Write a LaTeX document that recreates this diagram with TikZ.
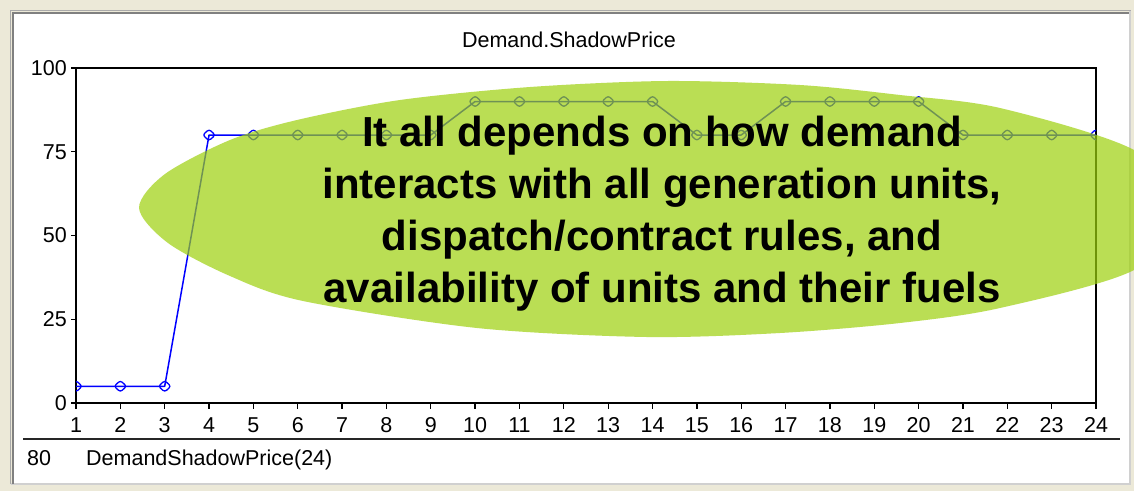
\documentclass[tikz,border=0pt]{standalone}
\usepackage{fontspec}
\setmainfont{Liberation Sans}
\usetikzlibrary{shapes.geometric}
\definecolor{beige}{RGB}{236,233,216}
\definecolor{blobgreen}{RGB}{158,208,12}
\definecolor{darkedge}{RGB}{128,128,128}
\definecolor{midedge}{RGB}{170,170,170}
\definecolor{lightedge}{RGB}{208,208,208}
\definecolor{seriesblue}{RGB}{0,0,255}
\tikzset{
  charttext/.style={inner sep=0pt, font=\fontsize{21.5}{24}\selectfont, text=black},
  axisline/.style={draw=black, line width=1.6pt},
  tickline/.style={draw=black, line width=1.3pt},
  seriesline/.style={draw=seriesblue, line width=1.5pt, line join=round},
  markerbox/.style={draw=seriesblue, line width=1.3pt, diamond, rounded corners=2.5pt,
    minimum width=13pt, minimum height=12pt, inner sep=0pt, fill=none},
  blob/.style={fill=blobgreen, fill opacity=0.7},
  bigtext/.style={align=center, inner sep=0pt, text=black,
    font=\fontsize{42}{52}\selectfont\bfseries}
}
\begin{document}
\begin{tikzpicture}[x=1pt,y=-1pt]
\useasboundingbox (0,0) rectangle (1134,491);
% window background and panel
\fill[beige] (0,0) rectangle (1134,491);
\fill[white] (12,12) rectangle (1130,483);
\draw[lightedge, line width=2pt] (1130,11) -- (1130,484) -- (11,484);
\draw[midedge, line width=1.5pt] (10.5,484) -- (10.5,10.5) -- (1131,10.5);
\draw[darkedge, line width=2pt] (13,484) -- (13,13) -- (1129,13);
% title
\node[charttext, anchor=base] (title) at (569,47) {Demand.ShadowPrice};
% plot frame
\draw[axisline] (76,68) rectangle (1096,403);
% y ticks and labels
\foreach \v in {0,25,50,75,100}{
  \coordinate (yt\v) at (76,{403-\v*3.35});
  \draw[tickline] (yt\v) -- ++(-5,0);
  \node[charttext, anchor=east] (yl\v) at ([xshift=-9pt]yt\v) {\v};
}
% x ticks and labels
\foreach \i in {1,...,24}{
  \coordinate (xt\i) at ({76+(\i-1)*44.3478},403);
  \draw[tickline] (xt\i) -- ++(0,6);
  \node[charttext, anchor=base] (xl\i) at ([yshift=-29pt]xt\i) {\i};
}
% data series
\foreach \v [count=\i] in {5,5,5,80,80,80,80,80,80,90,90,90,90,90,80,80,90,90,90,90,80,80,80,80}{
  \coordinate (p\i) at ({76+(\i-1)*44.3478},{403-\v*3.35});
}
\begin{scope}
  \clip (76,68) rectangle (1096,403);
  \draw[seriesline] (p1) \foreach \i in {2,...,24}{ -- (p\i)};
  \foreach \i in {1,...,24}{ \node[markerbox] (m\i) at (p\i) {}; }
\end{scope}
% legend area
\draw[black!85, line width=1.6pt] (23,439) -- (1120,439);
\node[charttext, anchor=base west] (legval) at (27,465) {80};
\node[charttext, anchor=base west] (legname) at (86,465) {DemandShadowPrice(24)};
% green callout blob
\begin{scope}
  \clip (0,0) rectangle (1134,491);
  \fill[blob] plot[smooth cycle, tension=0.5] coordinates {
    (139,208) (165,174) (230,140) (297,120) (400,100) (530,87) (667,81) (800,85)
    (900,95) (1000,108) (1134,150) (1185,210) (1134,270) (1000,308) (900,323)
    (780,333) (647,337) (477,328) (303,301)
    (230,276) (168,243)};
\end{scope}
\node[bigtext] (callout) at (662,214) {It all depends on how demand\\interacts with all generation units,\\dispatch/contract rules, and\\availability of units and their fuels};
\end{tikzpicture}
\end{document}
